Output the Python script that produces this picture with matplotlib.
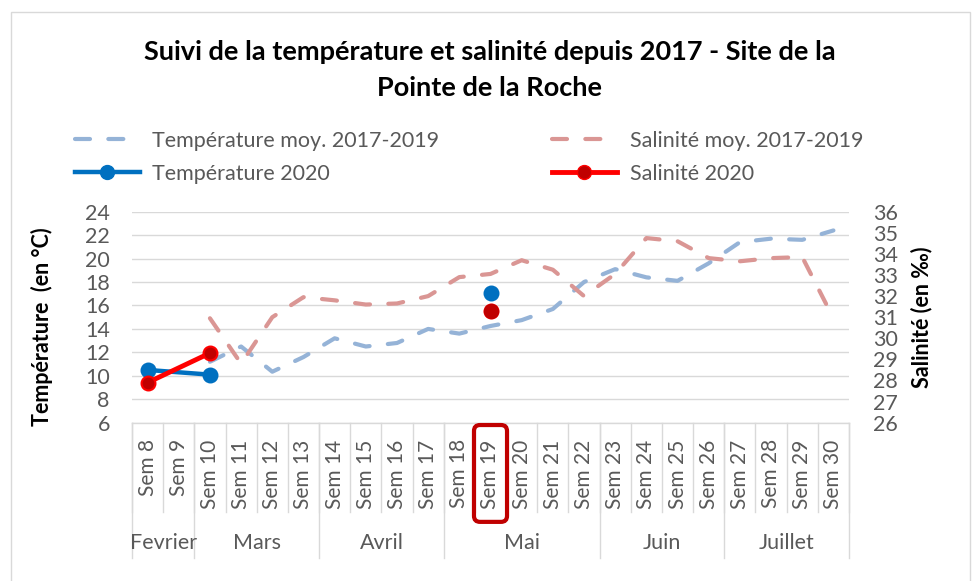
import numpy as np
import matplotlib
matplotlib.use("Agg")
import matplotlib.pyplot as plt
from matplotlib.lines import Line2D
from matplotlib.patches import FancyBboxPatch, Rectangle
from matplotlib.transforms import blended_transform_factory, IdentityTransform

plt.rcParams['font.family'] = ['Lato', 'DejaVu Sans']

nan = np.nan

# --- données ---
semaines = ["Sem 8", "Sem 9", "Sem 10", "Sem 11", "Sem 12", "Sem 13", "Sem 14", "Sem 15",
            "Sem 16", "Sem 17", "Sem 18", "Sem 19", "Sem 20", "Sem 21", "Sem 22", "Sem 23",
            "Sem 24", "Sem 25", "Sem 26", "Sem 27", "Sem 28", "Sem 29", "Sem 30"]
mois = ["Fevrier", "Mars", "Avril", "Mai", "Juin", "Juillet"]
mois_nb_sem = [2, 4, 4, 5, 4, 4]

temp_moy = [nan, nan, 11.2, 12.5, 10.35, 11.6, 13.2, 12.5, 12.8, 14.0, 13.6, 14.25,
            14.75, 15.7, 18.0, 19.1, 18.4, 18.1, 19.6, 21.4, 21.7, 21.6, 22.4]
sal_moy = [nan, nan, 30.95, 28.8, 31.0, 31.95, 31.8, 31.6, 31.65, 32.0, 32.9, 33.05,
           33.7, 33.25, 32.0, 33.05, 34.75, 34.6, 33.8, 33.65, 33.8, 33.85, 30.95]
temp_2020 = [10.5, nan, 10.1, nan, nan, nan, nan, nan, nan, nan, nan, 17.1,
             nan, nan, nan, nan, nan, nan, nan, nan, nan, nan, nan]
sal_2020 = [27.9, nan, 29.3, nan, nan, nan, nan, nan, nan, nan, nan, 31.3,
            nan, nan, nan, nan, nan, nan, nan, nan, nan, nan, nan]
sem_encadree = "Sem 19"

temp_ticks = [6, 8, 10, 12, 14, 16, 18, 20, 22, 24]
sal_ticks = [26, 27, 28, 29, 30, 31, 32, 33, 34, 35, 36]

# --- styles ---
gris_txt = "#595959"
gris_grille = "#D9D9D9"
bleu_moy = "#95B3D7"
rouge_moy = "#DA9694"
bleu = "#0070C0"
rouge = "#FF0000"
rouge_fonce = "#C00000"
fs = 15.5

fig = plt.figure(figsize=(9.76, 5.81), dpi=100)
fig.subplots_adjust(left=132 / 976, right=849 / 976, bottom=1 - 422.7 / 581, top=1 - 211.7 / 581)
ax = fig.add_subplot(111)
ax2 = ax.twinx()

x = np.arange(len(semaines))
t_moy = np.array(temp_moy)
s_moy = np.array(sal_moy)
t20 = np.array(temp_2020)
s20 = np.array(sal_2020)

dash = (3.6, 4.4)
ax.plot(x, t_moy, color=bleu_moy, lw=3, dashes=dash, dash_capstyle='round', zorder=3)
ax2.plot(x, s_moy, color=rouge_moy, lw=3, dashes=dash, dash_capstyle='round', zorder=2)


def trace_2020(axe, y, couleur_ligne, couleur_point, lw):
    idx = np.flatnonzero(~np.isnan(y))
    for a, b in zip(idx[:-1], idx[1:]):
        if b - a <= 2:
            axe.plot([a, b], y[[a, b]], color=couleur_ligne, lw=lw, solid_capstyle='round', zorder=4)
    axe.plot(idx, y[idx], ls='none', marker='o', ms=10, mfc=couleur_point,
             mec=couleur_ligne, mew=1.5, zorder=5)


trace_2020(ax, t20, bleu, bleu, 3.2)
trace_2020(ax2, s20, rouge, rouge_fonce, 3.5)
# point isolé de salinité en rouge foncé
ax2.plot(x[11:12], s20[11:12], ls='none', marker='o', ms=10, mfc=rouge_fonce, mec=rouge_fonce, zorder=6)

ax.set_xlim(-0.5, len(semaines) - 0.5)
ax.set_ylim(6, 24)
ax2.set_ylim(26, 36)
ax.set_yticks(temp_ticks)
ax2.set_yticks(sal_ticks)
ax.yaxis.grid(True, color=gris_grille, lw=1.0)
ax.set_axisbelow(True)

for a in (ax, ax2):
    for s in a.spines.values():
        s.set_visible(False)
ax.spines['bottom'].set_visible(True)
ax.spines['bottom'].set_color(gris_grille)
ax.spines['bottom'].set_linewidth(1.0)

ax.tick_params(axis='y', length=0, pad=16, labelsize=fs, labelcolor=gris_txt)
ax2.tick_params(axis='y', length=0, pad=17, labelsize=fs, labelcolor=gris_txt)
ax.set_xticks(x)
ax.set_xticklabels(semaines, rotation=90, va='top', ha='center')
ax.tick_params(axis='x', length=0, pad=12, labelsize=fs - 0.5, labelcolor=gris_txt)

# axe de catégories à deux niveaux
tr = blended_transform_factory(ax.transData, ax.transAxes)
for k in range(len(semaines) + 1):
    ax.plot([k - 0.5, k - 0.5], [0, -0.423], transform=tr, color=gris_grille, lw=1.0, clip_on=False)
debut = 0
for nom, n in zip(mois, mois_nb_sem):
    ax.plot([debut - 0.5, debut - 0.5], [0, -0.641], transform=tr, color=gris_grille, lw=1.0, clip_on=False)
    ax.text(debut + (n - 1) / 2, -0.57, nom, transform=tr, ha='center', va='center',
            fontsize=fs, color=gris_txt)
    debut += n
ax.plot([debut - 0.5, debut - 0.5], [0, -0.641], transform=tr, color=gris_grille, lw=1.0, clip_on=False)

# cadre autour de la semaine mise en évidence
i_enc = semaines.index(sem_encadree)
x0, y0 = tr.transform((i_enc - 0.53, -0.47))
x1, y1 = tr.transform((i_enc + 0.53, -0.011))
fig.add_artist(FancyBboxPatch((x0, y0), x1 - x0, y1 - y0, boxstyle="round,pad=0,rounding_size=6",
                              transform=IdentityTransform(), fc='none', ec=rouge_fonce, lw=3.0))

# titres des axes
fig.text(42 / 976, 1 - 327 / 581, "Température  (en °C)", rotation=90, ha='center', va='center',
         fontsize=fs, fontweight='bold', color='black')
fig.text(922 / 976, 1 - 317 / 581, "Salinité (en ‰)", rotation=90, ha='center', va='center',
         fontsize=fs, fontweight='bold', color='black')

# titre
fig.text(0.502, 1 - 52 / 581, "Suivi de la température et salinité depuis 2017 - Site de la",
         ha='center', va='center', fontsize=19.5, fontweight='bold', color='black')
fig.text(0.502, 1 - 88 / 581, "Pointe de la Roche",
         ha='center', va='center', fontsize=19.5, fontweight='bold', color='black')

# légende
h_tmoy = Line2D([], [], color=bleu_moy, lw=3, dashes=dash, dash_capstyle='round')
h_smoy = Line2D([], [], color=rouge_moy, lw=3, dashes=dash, dash_capstyle='round')
h_t20 = Line2D([], [], color=bleu, lw=3.2, marker='o', ms=10, mfc=bleu, mec=bleu)
h_s20 = Line2D([], [], color=rouge, lw=3.5, marker='o', ms=10, mfc=rouge_fonce, mec=rouge)
kw = dict(loc='upper left', frameon=False, fontsize=fs, handlelength=3.0, handletextpad=0.6,
          labelspacing=0.6, borderpad=0, borderaxespad=0, labelcolor=gris_txt)
leg1 = fig.legend([h_tmoy, h_t20], ["Température moy. 2017-2019", "Température 2020"],
                  bbox_to_anchor=(75 / 976, 1 - 131 / 581), **kw)
leg2 = fig.legend([h_smoy, h_s20], ["Salinité moy. 2017-2019", "Salinité 2020"],
                  bbox_to_anchor=(552 / 976, 1 - 131 / 581), **kw)

# bordure de la zone de graphique
fig.add_artist(Rectangle((11 / 976, -0.01), (970 - 11) / 976, 1.01 - 12 / 581,
                         transform=fig.transFigure, fc='none', ec=gris_grille, lw=1.0))

fig.savefig("out.png", dpi=100)
